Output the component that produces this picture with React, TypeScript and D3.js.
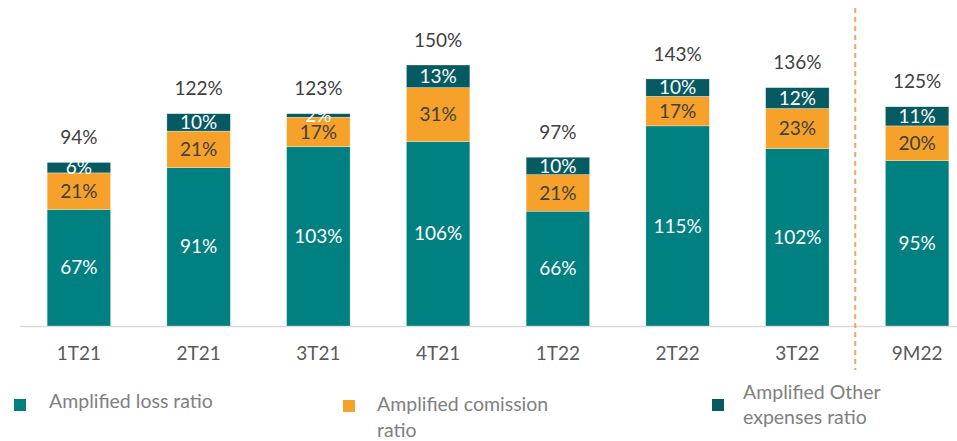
import React from "react";
import * as d3 from "d3";

const categories = ["1T21", "2T21", "3T21", "4T21", "1T22", "2T22", "3T22", "9M22"];
const lossRatio = [67, 91, 103, 106, 66, 115, 102, 95];
const commissionRatio = [21, 21, 17, 31, 21, 17, 23, 20];
const otherRatio = [6, 10, 2, 13, 10, 10, 12, 11];
const totalLabels = [94, 122, 123, 150, 97, 143, 136, 125];

const W = 957;
const H = 441;
const baseY = 326;
const FONT = "Lato, Carlito, Calibri, sans-serif";

const colors = {
  loss: "#008080",
  commission: "#F6A12A",
  other: "#065A61",
};

export default function App() {
  const x = d3.scaleBand<string>().domain(categories).range([19, 977]).paddingInner(0.47).paddingOuter(0.235);
  const y = d3.scaleLinear().domain([0, 150]).range([baseY, baseY - 261]);

  const stackData = categories.map((c, i) => ({
    cat: c,
    loss: lossRatio[i],
    commission: commissionRatio[i],
    other: otherRatio[i],
  }));
  const keys = ["loss", "commission", "other"] as const;
  const stack = d3.stack<any>().keys(keys as any)(stackData);

  const bw = x.bandwidth();
  const divX = (x("3T22")! + bw + x("9M22")!) / 2 - 2;

  return (
    <svg width={W} height={H} style={{ position: "absolute", left: 0, top: 0 }} fontFamily={FONT}>
      <line x1={20} x2={957} y1={baseY + 0.5} y2={baseY + 0.5} stroke="#d9d9d9" strokeWidth={1.5} />
      <line x1={divX} x2={divX} y1={8} y2={370} stroke="#F4A46A" strokeWidth={2} strokeDasharray="5,4" />
      {stack.map((layer, li) => {
        const key = keys[li];
        return (
          <g key={key}>
            {layer.map((d, i) => {
              const cx = x(categories[i])!;
              const y0 = y(d[0]);
              const y1 = y(d[1]);
              const val = (stackData[i] as any)[key];
              return (
                <g key={i}>
                  <rect x={cx} y={y1} width={bw} height={y0 - y1} fill={colors[key]} stroke="#ffffff" strokeWidth={0.5} strokeOpacity={0.6} />
                  <text
                    x={cx + bw / 2}
                    y={(y0 + y1) / 2}
                    dy="0.35em"
                    textAnchor="middle"
                    fontSize={19}
                    fill={key === "commission" ? "#404040" : "#ffffff"}
                  >
                    {val}%
                  </text>
                </g>
              );
            })}
          </g>
        );
      })}
      {categories.map((c, i) => {
        const top = y(lossRatio[i] + commissionRatio[i] + otherRatio[i]);
        return (
          <text key={c} x={x(c)! + bw / 2} y={top - 25} dy="0.35em" textAnchor="middle" fontSize={19} fill="#404040">
            {totalLabels[i]}%
          </text>
        );
      })}
      {categories.map((c) => (
        <text key={c} x={x(c)! + bw / 2} y={353} dy="0.35em" textAnchor="middle" fontSize={19} fill="#595959">
          {c}
        </text>
      ))}
      <g fontSize={19.5} fill="#808080">
        <rect x={14} y={399} width={12} height={12} fill={colors.loss} />
        <text x={49} y={401} dy="0.35em">Amplified loss ratio</text>
        <rect x={343} y={400} width={12} height={12} fill={colors.commission} />
        <text x={377} y={404} dy="0.35em">Amplified comission</text>
        <text x={377} y={430} dy="0.35em">ratio</text>
        <rect x={712} y={399} width={12} height={12} fill={colors.other} />
        <text x={743} y={392} dy="0.35em">Amplified Other</text>
        <text x={743} y={417} dy="0.35em">expenses ratio</text>
      </g>
    </svg>
  );
}
